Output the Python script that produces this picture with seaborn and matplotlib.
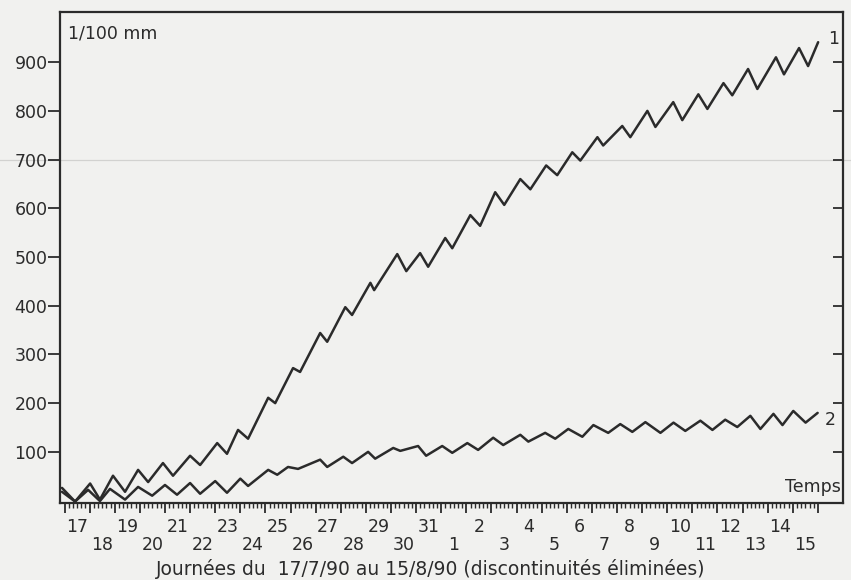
import matplotlib
matplotlib.use("Agg")
import matplotlib.pyplot as plt
import numpy as np
import pandas as pd
import seaborn as sns

# Time in days from 17/7/90 00h, displacement in 1/100 mm
t1 = [-0.10, 0.42, 1.02, 1.41, 1.93, 2.41, 2.93, 3.33, 3.92, 4.32, 5.00, 5.40,
      6.08, 6.47, 6.91, 7.31, 8.11, 8.39, 9.10, 9.38, 10.18, 10.46, 11.18, 11.45,
      12.18, 12.33, 13.25, 13.61, 14.16, 14.48, 15.16, 15.44, 16.16, 16.55,
      17.15, 17.51, 18.15, 18.55, 19.18, 19.62, 20.22, 20.54, 21.22, 21.45,
      22.21, 22.53, 23.21, 23.53, 24.24, 24.60, 25.24, 25.60, 26.24, 26.59,
      27.22, 27.59, 28.33, 28.65, 29.25, 29.61, 30.01]
v1 = [26, -2, 35, 2, 51, 18, 63, 38, 77, 51, 92, 73,
      118, 96, 145, 127, 211, 200, 272, 264, 344, 326, 397, 381,
      447, 432, 506, 471, 508, 480, 539, 518, 586, 564,
      633, 607, 660, 639, 688, 668, 715, 698, 746, 729,
      769, 746, 800, 767, 818, 781, 834, 804, 857, 832,
      886, 845, 910, 875, 929, 892, 941]

t2 = [-0.10, 0.42, 0.94, 1.41, 1.81, 2.41, 2.93, 3.49, 4.00, 4.48, 5.00, 5.40,
      6.00, 6.47, 7.00, 7.31, 8.11, 8.47, 8.90, 9.30, 10.18, 10.46, 11.10, 11.45,
      12.09, 12.37, 13.09, 13.37, 14.08, 14.40, 15.04, 15.44, 16.04, 16.47,
      17.07, 17.47, 18.15, 18.47, 19.14, 19.54, 20.06, 20.62, 21.06, 21.65,
      22.13, 22.61, 23.13, 23.73, 24.25, 24.72, 25.32, 25.80, 26.31, 26.79,
      27.31, 27.71, 28.23, 28.59, 29.02, 29.51, 29.99]
v2 = [18, -2, 22, -1, 24, 2, 28, 10, 32, 12, 36, 14,
      40, 16, 45, 30, 63, 53, 69, 65, 84, 69, 90, 77,
      100, 86, 108, 102, 112, 92, 112, 98, 118, 104,
      129, 114, 135, 121, 139, 127, 147, 131, 155, 139,
      157, 141, 161, 139, 160, 143, 164, 145, 166, 151,
      174, 147, 178, 155, 184, 160, 180]

day_labels = ["17", "18", "19", "20", "21", "22", "23", "24", "25", "26", "27",
              "28", "29", "30", "31", "1", "2", "3", "4", "5", "6", "7", "8",
              "9", "10", "11", "12", "13", "14", "15"]
y_ticks = [100, 200, 300, 400, 500, 600, 700, 800, 900]

df = pd.concat([
    pd.DataFrame({"t": t1, "v": v1, "courbe": "1"}),
    pd.DataFrame({"t": t2, "v": v2, "courbe": "2"}),
])

sns.set_theme(style="ticks")
plt.rcParams["font.family"] = ["DejaVu Sans"]
ink = "#2b2b2b"
paper = "#f1f1ef"
fs = 12.5

fig = plt.figure(figsize=(8.51, 5.80), dpi=100, facecolor=paper)
ax = fig.add_axes([60 / 851, 1 - 503 / 580, 783 / 851, 491 / 580])
ax.set_facecolor(paper)

sns.lineplot(data=df, x="t", y="v", units="courbe", estimator=None, sort=False,
             color=ink, linewidth=1.8, ax=ax, legend=False)

ax.set_xlim(-0.18, 31.0)
ax.set_ylim(-5, 1003)

for s in ax.spines.values():
    s.set_color(ink)
    s.set_linewidth(1.6)

# y axis: labelled ticks outside on the left, plain ticks inside on the right
ax.set_yticks(y_ticks)
ax.set_yticklabels([str(v) for v in y_ticks])
ax.tick_params(axis="y", left=True, right=False, direction="out", length=8.5,
               width=1.3, color=ink, labelsize=fs, labelcolor=ink, pad=0.5)
ry = ax.secondary_yaxis("right")
ry.set_yticks(y_ticks)
ry.set_yticklabels([])
ry.tick_params(direction="in", length=7.5, width=1.3, color=ink)
ry.spines["right"].set_visible(False)

# x axis: day names centred in each day, staggered on two rows
centres = np.arange(len(day_labels)) + 0.5
ax.set_xticks(centres)
ax.set_xticklabels([lab if i % 2 == 0 else "\n" + lab
                    for i, lab in enumerate(day_labels)])
ax.tick_params(axis="x", length=0, labelsize=fs, labelcolor=ink, pad=11)
for lab in ax.get_xticklabels():
    lab.set_linespacing(0.95)

# ruler ticks: one per day plus every four hours
rx = ax.secondary_xaxis("bottom")
rx.set_xticks(np.arange(0, 31, 1))
rx.set_xticks(np.arange(0, 30.01, 1 / 6), minor=True)
rx.set_xticklabels([])
rx.tick_params(which="major", direction="out", length=7, width=1.3, color=ink)
rx.tick_params(which="minor", direction="out", length=3.5, width=1.0, color=ink)
rx.spines["bottom"].set_visible(False)

ax.set_xlabel("Journées du  17/7/90 au 15/8/90 (discontinuités éliminées)",
              fontsize=13.5, color=ink, labelpad=3)
ax.xaxis.set_label_coords(0.474, -0.115)
ax.set_ylabel("")

ax.text(0.01, 0.975, "1/100 mm", transform=ax.transAxes, ha="left", va="top",
        fontsize=fs, color=ink)
ax.text(0.997, 0.015, "Temps", transform=ax.transAxes, ha="right", va="bottom",
        fontsize=fs, color=ink)
ax.text(t1[-1] + 0.4, v1[-1] + 6, "1", ha="left", va="center", fontsize=fs, color=ink)
ax.text(t2[-1] + 0.3, v2[-1] - 15, "2", ha="left", va="center", fontsize=fs, color=ink)

# faint fold line across the sheet
ax.axhline(700, xmin=-0.08, xmax=1.01, color="#d2d2d0", linewidth=0.9,
           clip_on=False, zorder=0)

fig.savefig("out.png", dpi=100, facecolor=paper)
